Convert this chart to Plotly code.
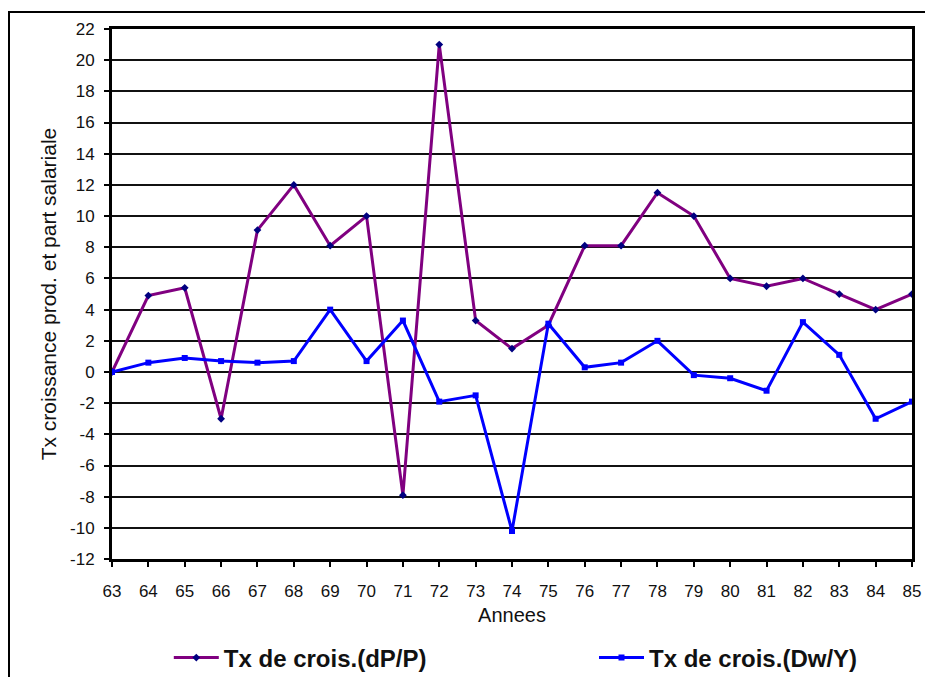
import plotly.graph_objects as go

years = ["63","64","65","66","67","68","69","70","71","72","73","74","75","76","77","78","79","80","81","82","83","84","85"]
dp_p = [0, 4.9, 5.4, -3.0, 9.1, 12.0, 8.1, 10.0, -7.9, 21.0, 3.3, 1.5, 3.0, 8.1, 8.1, 11.5, 10.0, 6.0, 5.5, 6.0, 5.0, 4.0, 5.0]
dw_y = [0, 0.6, 0.9, 0.7, 0.6, 0.7, 4.0, 0.7, 3.3, -1.9, -1.5, -10.2, 3.1, 0.3, 0.6, 2.0, -0.2, -0.4, -1.2, 3.2, 1.1, -3.0, -1.9]
y_ticks = list(range(-12, 23, 2))
y_ticktext = [str(v) for v in y_ticks]

font = "Liberation Sans, Arial, sans-serif"

fig = go.Figure()
fig.add_trace(go.Scatter(
    x=years, y=dp_p, name="Tx de crois.(dP/P)", mode="lines+markers",
    line=dict(color="#800080", width=3),
    marker=dict(symbol="diamond", size=6, color="#000080"),
    legend="legend",
))
fig.add_trace(go.Scatter(
    x=years, y=dw_y, name="Tx de crois.(Dw/Y)", mode="lines+markers",
    line=dict(color="#0000FF", width=3),
    marker=dict(symbol="square", size=6, color="#0000FF"),
    legend="legend2",
))

legend_font = dict(family=font, size=24, color="#111111", weight="bold")

fig.update_layout(
    width=925, height=677,
    margin=dict(l=104, r=21, t=21, b=123),
    paper_bgcolor="white", plot_bgcolor="white",
    font=dict(family=font, color="#111111"),
    showlegend=True,
    legend=dict(
        orientation="h", x=0.071, xanchor="left",
        yref="container", y=0.0399, yanchor="middle",
        font=legend_font, itemwidth=45, bgcolor="rgba(0,0,0,0)",
    ),
    legend2=dict(
        orientation="h", x=0.6025, xanchor="left",
        yref="container", y=0.0399, yanchor="middle",
        font=legend_font, itemwidth=45, bgcolor="rgba(0,0,0,0)",
    ),
    xaxis=dict(
        type="category", range=[0, 22],
        showgrid=False, showline=True, linecolor="black", linewidth=3, mirror=True,
        ticks="outside", ticklen=5, tickcolor="black", tickwidth=2,
        ticklabelstandoff=10,
        tickfont=dict(size=17, family=font),
        title=dict(text="Annees", font=dict(size=20, family=font), standoff=8),
        zeroline=False,
    ),
    yaxis=dict(
        range=[-12, 22], tickvals=y_ticks, ticktext=y_ticktext,
        showgrid=True, gridcolor="#111111", gridwidth=2,
        showline=True, linecolor="black", linewidth=3, mirror=True,
        ticks="outside", ticklen=5, tickcolor="black", tickwidth=2,
        ticklabelstandoff=6,
        tickfont=dict(size=17, family=font),
        title=dict(text="Tx croissance prod. et part salariale", font=dict(size=21, family=font), standoff=8),
        zeroline=False,
    ),
    shapes=[dict(
        type="path", xref="paper", yref="paper",
        path="M -0.12875,-0.35 L -0.12875,1.0319 L 1.05,1.0319",
        line=dict(color="black", width=2),
    )],
)

fig.write_html("out.html")
